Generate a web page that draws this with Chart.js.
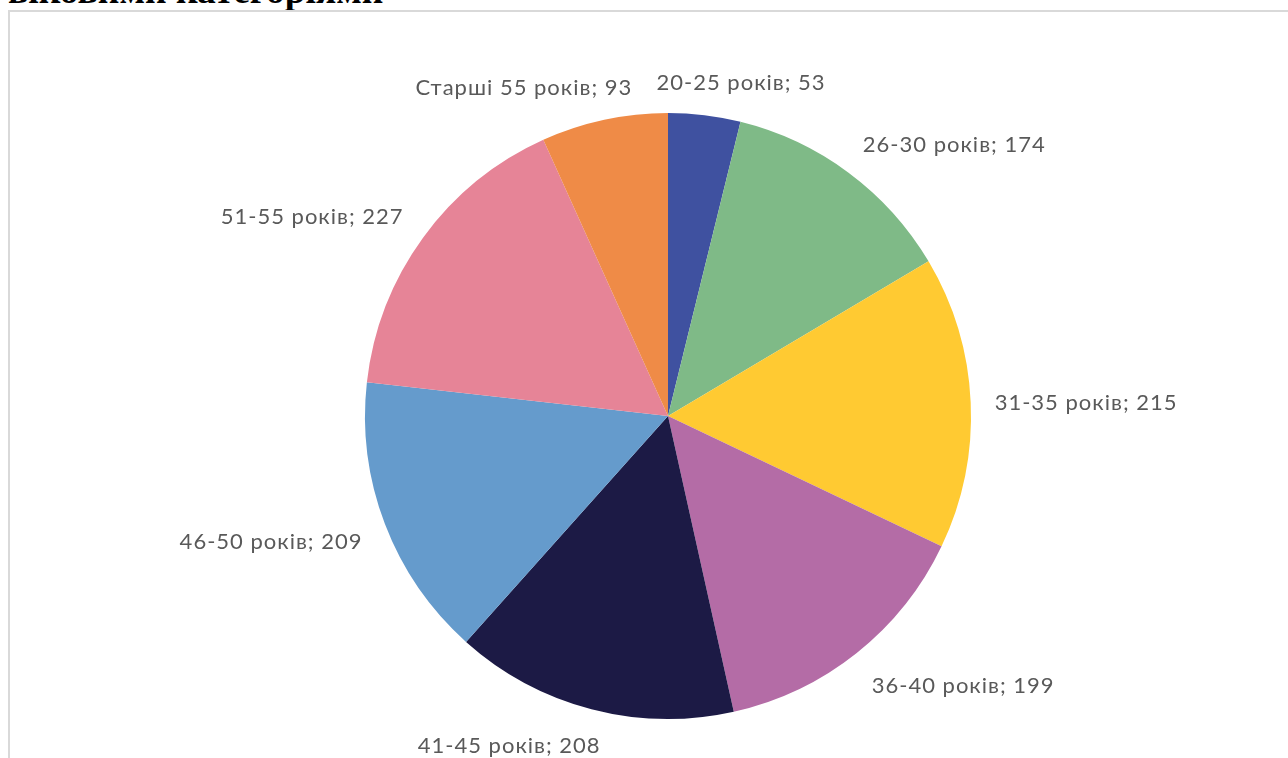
<!DOCTYPE html>
<html><head><meta charset="utf-8">
<script src="https://cdn.jsdelivr.net/npm/chart.js@4/dist/chart.umd.min.js"></script>
<style>
html,body{margin:0;padding:0;background:#fff;width:1288px;height:758px;overflow:hidden;position:relative}
#title{position:absolute;left:8px;top:-28px;font:bold 37.5px/1 "Liberation Serif","Times New Roman",serif;color:#000;white-space:nowrap}
#frame{position:absolute;left:8px;top:10px;width:1300px;height:800px;border:2px solid #d9d9d9;box-sizing:border-box}
#wrap{position:absolute;left:0;top:0;width:1288px;height:758px}
</style></head><body>
<div id="title">віковими категоріями</div>
<div id="frame"></div>
<div id="wrap"><canvas id="c" width="1288" height="758"></canvas></div>
<script>
const categories = ["20-25 років","26-30 років","31-35 років","36-40 років","41-45 років","46-50 років","51-55 років","Старші 55 років"];
const values = [53,174,215,199,208,209,227,93];
const colors = ["#3f51a0","#7fba87","#ffca32","#b46ca6","#1c1a45","#659bcc","#e68497","#ef8b47"];

const labelPlugin = {
  id:'outLabels',
  afterDatasetsDraw(chart){
    const ctx = chart.ctx;
    const meta = chart.getDatasetMeta(0);
    ctx.save();
    ctx.font = '22px Lato, "Open Sans", sans-serif';
    ctx.letterSpacing = '1px';
    ctx.fillStyle = '#595959';
    ctx.textBaseline = 'middle';
    ctx.textAlign = 'center';
    const gap = 24, h = 22;
    meta.data.forEach((arc,i)=>{
      const p = arc.getProps(['x','y','startAngle','endAngle','outerRadius'],true);
      const mid = (p.startAngle+p.endAngle)/2;
      const cos = Math.cos(mid), sin = Math.sin(mid);
      const ax = p.x + (p.outerRadius+gap)*cos;
      const ay = p.y + (p.outerRadius+gap)*sin;
      const txt = categories[i] + '; ' + values[i];
      const w = ctx.measureText(txt).width;
      const fx = Math.max(-1,Math.min(1,cos*3.3));
      const fy = Math.max(-1,Math.min(1,sin*1.5));
      ctx.fillText(txt, ax + fx*w/2, ay + fy*h/2 + 3);
    });
    ctx.restore();
  }
};

new Chart(document.getElementById('c'),{
  type:'pie',
  data:{labels:categories,datasets:[{data:values,backgroundColor:colors,borderWidth:0}]},
  options:{
    responsive:false,animation:false,
    layout:{padding:{top:113,bottom:39,left:365,right:317}},
    plugins:{legend:{display:false},tooltip:{enabled:false}}
  },
  plugins:[labelPlugin]
});
</script>
</body></html>
